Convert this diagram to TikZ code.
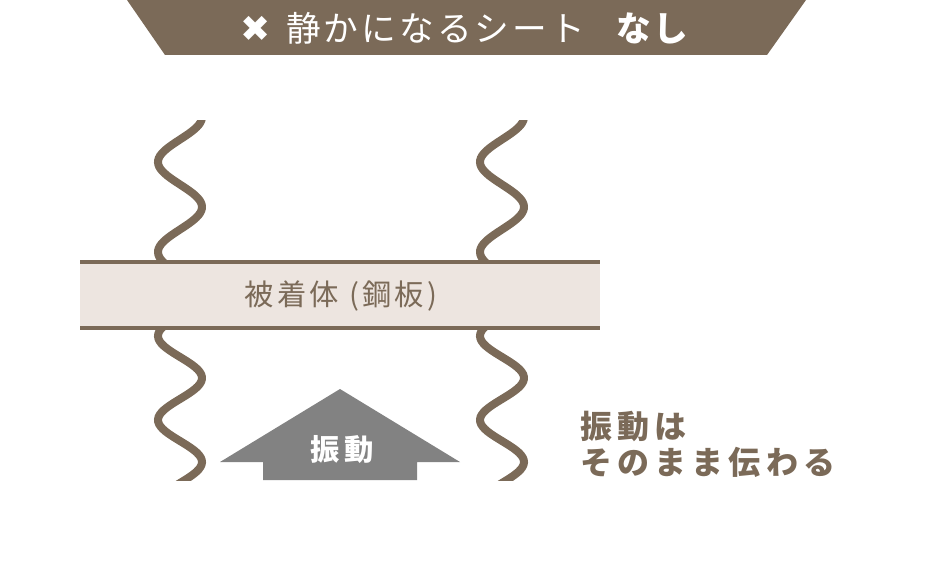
\documentclass[tikz,border=0pt]{standalone}
\usepackage{fontspec}
\newfontfamily\jpfont{Noto Sans CJK JP}
\newfontfamily\jpheadfont{Noto Sans CJK JP}[LetterSpace=9]
\newfontfamily\jpplatefont{Noto Sans CJK JP}[LetterSpace=11]
\newfontfamily\jpnotefont{Noto Sans CJK JP}[LetterSpace=16]
\newfontfamily\symfont{DejaVu Sans}
\definecolor{brownline}{HTML}{7B6A58}
\definecolor{platefill}{HTML}{EDE5E0}
\definecolor{arrowgray}{HTML}{828282}

\tikzset{every picture/.style={line width=0.75pt}}

\begin{document}
\begin{tikzpicture}[x=0.75pt,y=0.75pt,yscale=-1,
	spring/.style={draw=brownline,line width=6pt},
	plateedge/.style={draw=brownline,line width=3pt},
	headtext/.style={text=white,inner sep=0pt,font=\jpheadfont\fontsize{26}{30}\selectfont},
	platetext/.style={text=brownline,inner sep=0pt,font=\jpplatefont\fontsize{22}{26}\selectfont},
	arrowtext/.style={text=white,inner sep=0pt,font=\jpnotefont\bfseries\fontsize{22}{26}\selectfont},
	notetext/.style={text=brownline,inner sep=0pt,align=left,font=\jpnotefont\bfseries\fontsize{24}{27}\selectfont}]
	\useasboundingbox (0,0) rectangle (930,560);
	
	% Header band
	\fill[brownline] (127,0) -- (806,0) -- (767,55) -- (165,55) -- cycle;
	\node[headtext] (title) at (466,28) {{\symfont\bfseries\fontsize{27}{30}\selectfont ✖}\hspace{0.45em}静かになるシート\hspace{0.8em}\textbf{なし}};
	
	% Draw springs above and below the plate
	\begin{scope}
		\clip (0,120) rectangle (930,480);
		\foreach \dx in {0,322}{
			\draw[spring] plot[domain=116:268,samples=70,variable=\t] ({\dx+180-22*cos((\t-162)*4)},\t);
			\draw[spring] plot[domain=322:486,samples=70,variable=\t] ({\dx+180+22*cos((\t-378)/42*180)},\t);
		}
	\end{scope}
	
	% Draw plate
	\fill[platefill] (80,261) rectangle (600,329);
	\draw[plateedge] (80,262) -- (600,262);
	\draw[plateedge] (80,328) -- (600,328);
	\node[platetext] (plate) at (341,296) {被着体 (鋼板)};
	
	% Draw arrow
	\fill[arrowgray] (340,389) -- (460,462) -- (417,462) -- (417,480) -- (263,480) -- (263,462) -- (220,462) -- cycle;
	\node[arrowtext] (vibration) at (342,449) {振動};
	
	% Add note
	\node[notetext,anchor=west] (note) at (580,444) {振動は\\そのまま伝わる};
\end{tikzpicture}
\end{document}
